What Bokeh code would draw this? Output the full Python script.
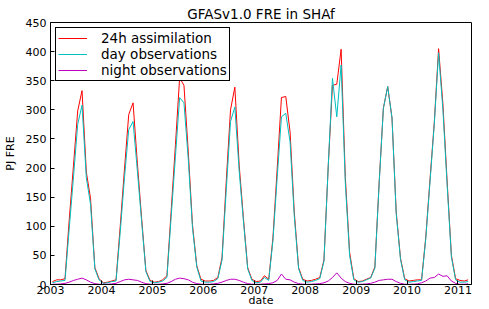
from datetime import datetime
from bokeh.plotting import figure
from bokeh.models import (Range1d, Legend, LegendItem, FixedTicker,
                          DatetimeTickFormatter, ColumnDataSource)
from bokeh.embed import file_html
from bokeh.resources import INLINE

# ---------------- data (monthly totals, Jan 2003 - Mar 2011) ----------------
title_text = "GFASv1.0 FRE in SHAf"
x_label = "date"
y_label = "PJ FRE"
series_names = ["24h assimilation", "day observations", "night observations"]
tick_years = [2003, 2004, 2005, 2006, 2007, 2008, 2009, 2010, 2011]
y_ticks = [0, 50, 100, 150, 200, 250, 300, 350, 400, 450]

assim_24h = [
    5, 8, 8, 10, 110, 205, 298, 333, 193, 148, 29, 10,      # 2003
    3, 4, 6, 8, 100, 200, 292, 312, 208, 115, 24, 7,        # 2004
    4, 5, 8, 15, 125, 240, 355, 342, 228, 103, 32, 9,       # 2005
    6, 6, 7, 12, 46, 180, 300, 339, 205, 115, 29, 9,        # 2006
    5, 6, 15, 9, 80, 200, 321, 323, 262, 125, 29, 9,        # 2007
    6, 7, 9, 12, 42, 205, 342, 344, 404, 185, 55, 10,       # 2008
    5, 6, 9, 12, 30, 176, 303, 340, 286, 125, 45, 10,       # 2009
    6, 7, 8, 8, 81, 182, 278, 405, 310, 178, 50, 10,        # 2010
    7, 6, 8,                                                # 2011
]
day_obs = [
    3, 5, 6, 7, 95, 185, 275, 308, 183, 138, 27, 8,
    2, 3, 5, 6, 90, 185, 266, 280, 195, 110, 22, 5,
    3, 4, 6, 12, 115, 220, 321, 312, 215, 98, 30, 6,
    4, 4, 5, 10, 42, 165, 280, 305, 195, 110, 27, 7,
    3, 4, 12, 7, 75, 185, 288, 294, 245, 118, 27, 7,
    4, 5, 7, 10, 40, 205, 354, 288, 377, 175, 50, 8,
    4, 5, 8, 11, 28, 174, 302, 340, 286, 122, 43, 8,
    4, 5, 6, 7, 78, 178, 275, 398, 300, 172, 47, 8,
    4, 4, 5,
]
night_obs = [
    0.5, 0.5, 1, 2, 4, 7, 9, 11, 8, 4, 1.5, 0.5,
    0.3, 0.5, 1, 2, 5, 8, 9, 8, 7, 4, 1.5, 0.5,
    0.3, 0.5, 1, 2, 5, 9, 11, 10, 8, 4, 1.5, 0.5,
    0.3, 0.5, 1, 2, 4, 7, 9, 9, 7, 4, 1.5, 0.5,
    0.3, 0.5, 1, 1.5, 3, 7, 18, 9, 8, 4, 1.5, 0.5,
    0.3, 0.5, 1, 1.5, 3, 6, 12, 20, 11, 5, 2, 0.5,
    0.3, 0.5, 1, 2, 4, 7, 8, 9, 9, 5, 2, 0.5,
    0.3, 0.5, 1, 3, 6, 11, 12, 18, 14, 15, 6, 2,
    0.3, 0.5, 1,
]
dates = [datetime(2003 + i // 12, i % 12 + 1, 15) for i in range(len(assim_24h))]

EPOCH = datetime(1970, 1, 1)
def ms(d):
    return (d - EPOCH).total_seconds() * 1000.0

year_ticks = [ms(datetime(y, 1, 1)) for y in tick_years]
x_start, x_end = datetime(2003, 1, 1), datetime(2011, 4, 8)

FONT = "DejaVu Sans"
src = ColumnDataSource(dict(date=dates, a=assim_24h, d=day_obs, n=night_obs))

p = figure(width=473, height=309, x_axis_type="datetime",
           x_range=Range1d(x_start, x_end),
           y_range=Range1d(0, 450),
           output_backend="svg", toolbar_location=None,
           min_border_left=43, min_border_right=2, min_border_top=22, min_border_bottom=0,
           title=title_text)

p.title.align = "center"
p.title.text_font = FONT
p.title.text_font_size = "13.5px"
p.title.text_font_style = "normal"
p.title.text_color = "#000000"
p.title.text_line_height = 1.0
p.title.standoff = 1
p.title.offset = 0

p.background_fill_color = "white"
p.border_fill_color = "white"
p.outline_line_color = "black"
p.outline_line_width = 1
p.outline_line_alpha = 1
p.xgrid.visible = False
p.ygrid.visible = False

r1 = p.line("date", "a", source=src, line_color="#ff0000", line_width=1)
r2 = p.line("date", "d", source=src, line_color="#00bfbf", line_width=1)
r3 = p.line("date", "n", source=src, line_color="#bf00bf", line_width=1)

def style_axis(ax):
    ax.axis_line_color = "black"
    ax.major_tick_line_color = "black"
    ax.major_tick_in = 4
    ax.major_tick_out = 0
    ax.minor_tick_line_color = None
    ax.major_label_text_font = FONT
    ax.major_label_text_color = "#000000"
    ax.major_label_text_font_size = "11px"
    ax.major_label_text_line_height = 1.0
    ax.axis_label_text_font = FONT
    ax.axis_label_text_font_style = "normal"
    ax.axis_label_text_font_size = "11px"
    ax.axis_label_text_line_height = 1.0
    ax.axis_label_text_color = "#000000"

xa = p.xaxis[0]
xa.ticker = FixedTicker(ticks=year_ticks)
xa.formatter = DatetimeTickFormatter(years="%Y", months="%Y", days="%Y")
xa.axis_label = x_label
style_axis(xa)
xa.major_label_standoff = 1
xa.axis_label_standoff = -3

ya = p.yaxis[0]
ya.ticker = FixedTicker(ticks=y_ticks)
ya.axis_label = y_label
style_axis(ya)
ya.major_label_standoff = 4
ya.axis_label_standoff = 6

legend = Legend(items=[LegendItem(label=series_names[0], renderers=[r1]),
                       LegendItem(label=series_names[1], renderers=[r2]),
                       LegendItem(label=series_names[2], renderers=[r3])],
                location="top_left")
legend.label_text_font = FONT
legend.label_text_font_size = "13.5px"
legend.label_text_color = "#000000"
legend.label_text_line_height = 1.0
legend.border_line_color = "black"
legend.border_line_width = 1
legend.border_line_alpha = 1
legend.background_fill_color = "white"
legend.background_fill_alpha = 1
legend.glyph_width = 29
legend.glyph_height = 12
legend.label_height = 12
legend.label_standoff = 14
legend.spacing = 0
legend.padding = 2
legend.margin = 5
p.add_layout(legend)

open("out.html", "w").write(file_html(p, INLINE))
